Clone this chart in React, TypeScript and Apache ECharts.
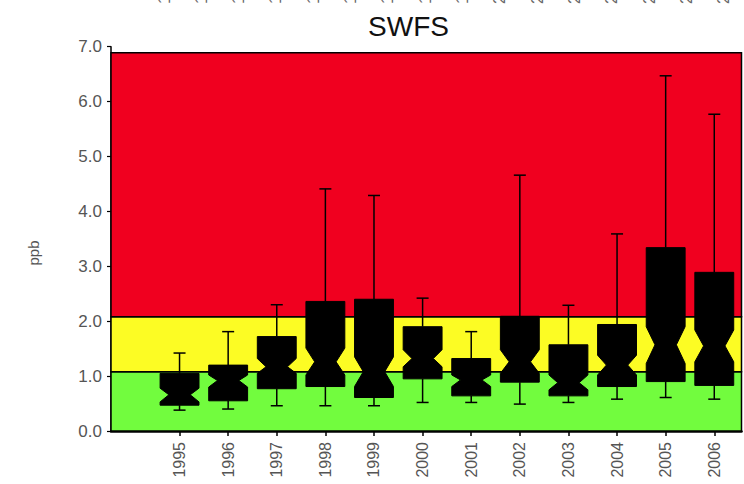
import React, { useEffect, useRef } from "react";
import * as echarts from "echarts";

const years = [1995, 1996, 1997, 1998, 1999, 2000, 2001, 2002, 2003, 2004, 2005, 2006];
const whiskerLow = [0.38, 0.4, 0.46, 0.46, 0.46, 0.52, 0.52, 0.49, 0.52, 0.58, 0.61, 0.58];
const q1 = [0.47, 0.55, 0.77, 0.81, 0.61, 0.95, 0.64, 0.89, 0.64, 0.81, 0.9, 0.83];
const notchLow = [0.53, 0.8, 1.05, 1.02, 0.81, 1.17, 0.81, 1.05, 0.75, 1.02, 1.23, 1.26];
const median = [0.66, 0.92, 1.17, 1.26, 1.08, 1.32, 0.93, 1.26, 0.88, 1.2, 1.57, 1.55];
const notchHigh = [0.78, 1.02, 1.32, 1.51, 1.35, 1.48, 1.02, 1.48, 1.02, 1.38, 1.9, 1.84];
const q3 = [1.05, 1.2, 1.72, 2.36, 2.4, 1.9, 1.32, 2.09, 1.57, 1.94, 3.34, 2.89];
const whiskerHigh = [1.42, 1.81, 2.3, 4.41, 4.29, 2.42, 1.81, 4.66, 2.29, 3.59, 6.47, 5.77];

const bandLow = [0, 1.08, 2.08];
const bandHigh = [1.08, 2.08, 6.89];
const bandColors = ["#72FC3E", "#FCFC24", "#F0001F"];

const yTicks = [0, 1, 2, 3, 4, 5, 6, 7];
const topLabels = [1991, 1992, 1993, 1994, 1995, 1996, 1997, 1998, 1999, 2000, 2001, 2002, 2003, 2004, 2005, 2006];

export default function App() {
  const ref = useRef<HTMLDivElement>(null);
  useEffect(() => {
    document.body.style.margin = "0";
    const chart = echarts.init(ref.current!, null, { renderer: "svg" });
    const boxData = years.map((y, i) => [y, whiskerLow[i], q1[i], notchLow[i], median[i], notchHigh[i], q3[i], whiskerHigh[i]]);
    const bandData = bandLow.map((lo, i) => [lo, bandHigh[i], i]);
    const font = "'Liberation Sans', Arial, sans-serif";
    const topGraphics = topLabels.map((t, i) => ({
      type: "text",
      x: 164 + 37.33 * i,
      y: 4,
      rotation: Math.PI / 2,
      style: { text: String(t), fontSize: 16, fontFamily: font, fill: "#666", align: "left", verticalAlign: "middle" },
      silent: true,
    }));
    chart.setOption({
      animation: false,
      grid: { left: 111, right: 2.5, top: 46.7, bottom: 53 },
      graphic: [
        {
          type: "text",
          x: 408.5,
          y: 26.5,
          style: { text: "SWFS", fontSize: 28, fontFamily: font, fill: "#111", align: "center", verticalAlign: "middle" },
        },
        {
          type: "text",
          x: 33,
          y: 253,
          rotation: Math.PI / 2,
          style: { text: "ppb", fontSize: 15, fontFamily: font, fill: "#555", align: "center", verticalAlign: "middle" },
        },
        ...topGraphics,
      ],
      xAxis: {
        type: "value",
        min: 1993.59,
        max: 2006.56,
        splitLine: { show: false },
        axisLine: { show: true, lineStyle: { color: "#000", width: 2.5 } },
        axisTick: { show: true, customValues: years, length: 5, lineStyle: { color: "#000", width: 1.5 } },
        axisLabel: {
          customValues: years,
          rotate: 90,
          margin: 11,
          fontSize: 16,
          fontFamily: font,
          color: "#555",
          formatter: (v: number) => String(v),
        },
      },
      yAxis: {
        type: "value",
        min: 0,
        max: 7,
        interval: 1,
        splitLine: { show: false },
        axisLine: { show: true, lineStyle: { color: "#000", width: 1.5 } },
        axisTick: { show: true, length: 4, lineStyle: { color: "#000", width: 1.2 } },
        axisLabel: {
          margin: 9,
          fontSize: 17,
          fontFamily: font,
          color: "#555",
          formatter: (v: number) => (yTicks.includes(v) ? v.toFixed(1) : ""),
        },
      },
      series: [
        {
          type: "custom",
          z: 1,
          silent: true,
          data: bandData,
          encode: { y: [0, 1] },
          renderItem: (params: any, api: any) => {
            const cs = params.coordSys;
            const yLo = api.coord([1995, api.value(0)])[1];
            const yHi = api.coord([1995, api.value(1)])[1];
            const idx = api.value(2);
            return {
              type: "rect",
              shape: { x: cs.x, y: yHi, width: cs.width, height: yLo - yHi },
              style: { fill: bandColors[idx], stroke: "#000", lineWidth: 1.5 },
            };
          },
        },
        {
          type: "custom",
          z: 5,
          silent: true,
          data: boxData,
          encode: { x: 0, y: [1, 2, 3, 4, 5, 6, 7] },
          renderItem: (params: any, api: any) => {
            const x = api.value(0);
            const Y = (i: number) => api.coord([x, api.value(i)])[1];
            const cx = api.coord([x, 0])[0];
            const hw = api.size([1, 0])[0] * 0.4;
            const ind = hw * 0.45;
            const wLo = Y(1), bq1 = Y(2), nLo = Y(3), med = Y(4), nHi = Y(5), bq3 = Y(6), wHi = Y(7);
            const cap = 6;
            const ls = { stroke: "#000", lineWidth: 1.5 };
            return {
              type: "group",
              children: [
                { type: "line", shape: { x1: cx, y1: bq3, x2: cx, y2: wHi }, style: ls },
                { type: "line", shape: { x1: cx - cap, y1: wHi, x2: cx + cap, y2: wHi }, style: ls },
                { type: "line", shape: { x1: cx, y1: bq1, x2: cx, y2: wLo }, style: ls },
                { type: "line", shape: { x1: cx - cap, y1: wLo, x2: cx + cap, y2: wLo }, style: ls },
                {
                  type: "polygon",
                  shape: {
                    points: [
                      [cx - hw, bq3],
                      [cx + hw, bq3],
                      [cx + hw, nHi],
                      [cx + hw - ind, med],
                      [cx + hw, nLo],
                      [cx + hw, bq1],
                      [cx - hw, bq1],
                      [cx - hw, nLo],
                      [cx - hw + ind, med],
                      [cx - hw, nHi],
                    ],
                  },
                  style: { fill: "#000", stroke: "#000", lineWidth: 1 },
                },
              ],
            };
          },
        },
      ],
    });
    return () => chart.dispose();
  }, []);
  return <div ref={ref} style={{ width: 744, height: 484 }} />;
}
